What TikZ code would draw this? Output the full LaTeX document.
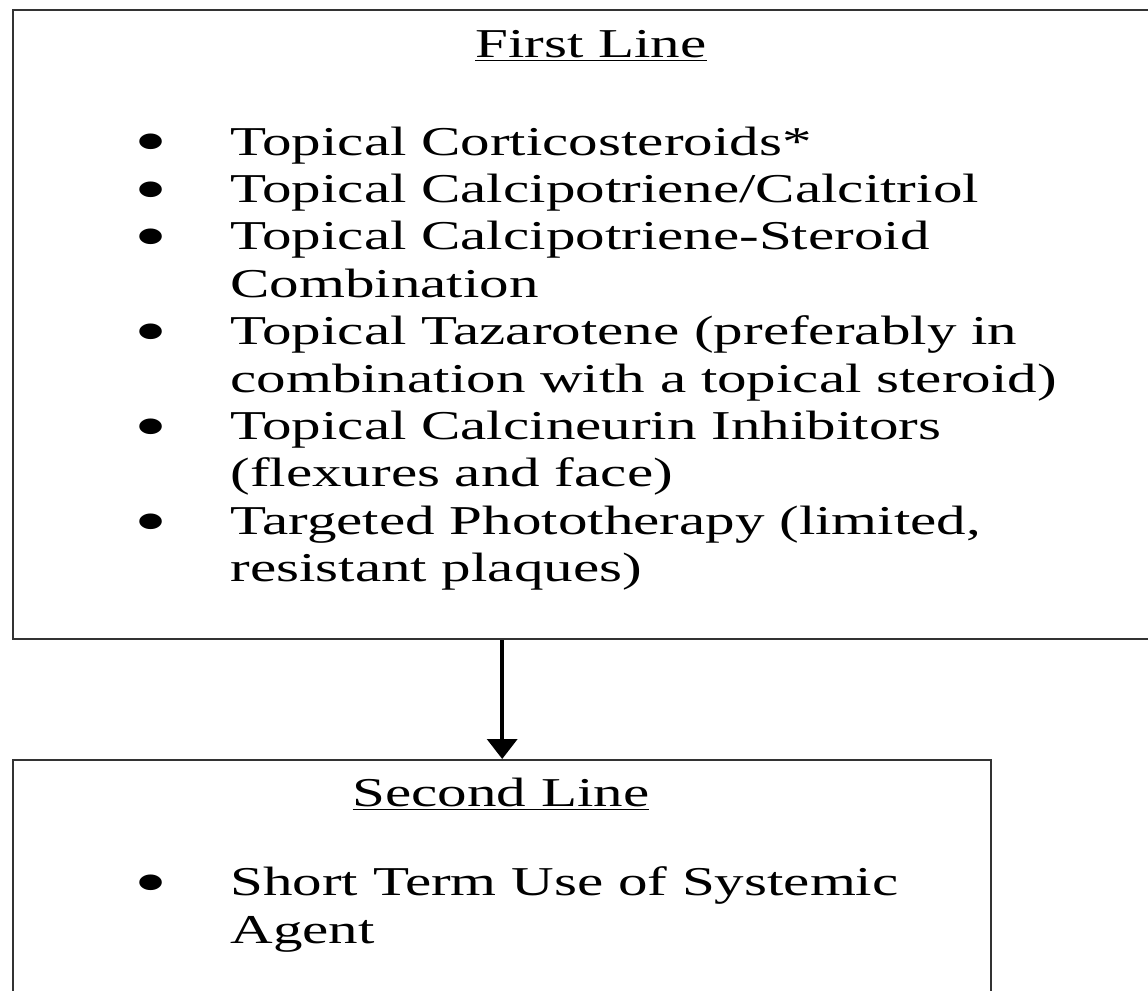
\documentclass[tikz,border=0pt]{standalone}
\usepackage{fontspec}
\setmainfont{Liberation Serif}[FakeStretch=1.44]
\usetikzlibrary{positioning,arrows.meta}

\newcommand{\bigdot}{\smash{\raisebox{-4.4pt}{\scalebox{1.6}{•}}}}

\begin{document}
\begin{tikzpicture}[x=0.5pt, y=-0.5pt]
        % Define styles
        \tikzstyle{panel}=[rectangle, draw=black!80, line width=1.2pt, anchor=north west, inner sep=0pt]
        \tikzstyle{heading}=[anchor=base, inner sep=0pt, font=\fontsize{20.5}{23.7}\selectfont]
        \tikzstyle{dot}=[anchor=base west, inner sep=0pt, font=\fontsize{20.5}{23.7}\selectfont]
        % multi-line entries sit on the baseline of their last line
        \tikzstyle{entry}=[anchor=base west, inner sep=0pt, align=left, font=\fontsize{20.5}{23.7}\selectfont]
        \tikzstyle{arrow}=[-{Triangle[length=10pt, width=15pt]}, line width=1.8pt]

        \useasboundingbox (0,0) rectangle (1148,991);

        % First line box
        \node[panel, minimum width=579pt, minimum height=314.5pt] (first) at (12,9) {};
        \node[heading] (firsttitle) at (591,57) {\underline{First Line}};

        \node[dot] (d1) at (134,155) {\bigdot};
        \node[entry] (t1) at (230,155) {Topical Corticosteroids*};
        \node[dot] (d2) at (134,202.4) {\bigdot};
        \node[entry] (t2) at (230,202.4) {Topical Calcipotriene/Calcitriol};
        \node[dot] (d3) at (134,249.8) {\bigdot};
        \node[entry] (t3) at (230,297.2) {Topical Calcipotriene-Steroid\\Combination};
        \node[dot] (d4) at (134,344.6) {\bigdot};
        \node[entry] (t4) at (230,392) {Topical Tazarotene (preferably in\\combination with a topical steroid)};
        \node[dot] (d5) at (134,439.4) {\bigdot};
        \node[entry] (t5) at (230,486.8) {Topical Calcineurin Inhibitors\\(flexures and face)};
        \node[dot] (d6) at (134,534.2) {\bigdot};
        \node[entry] (t6) at (230,581.6) {Targeted Phototherapy (limited,\\resistant plaques)};

        % Second line box
        \node[panel, minimum width=489pt, minimum height=130pt] (second) at (12,759) {};
        \node[heading] (secondtitle) at (501,806) {\underline{Second Line}};

        \node[dot] (d7) at (134,896) {\bigdot};
        \node[entry] (t7) at (230,943) {Short Term Use of Systemic\\Agent};

        % Arrow
        \draw[arrow] (second.north |- first.south) -- (second.north);
\end{tikzpicture}
\end{document}
